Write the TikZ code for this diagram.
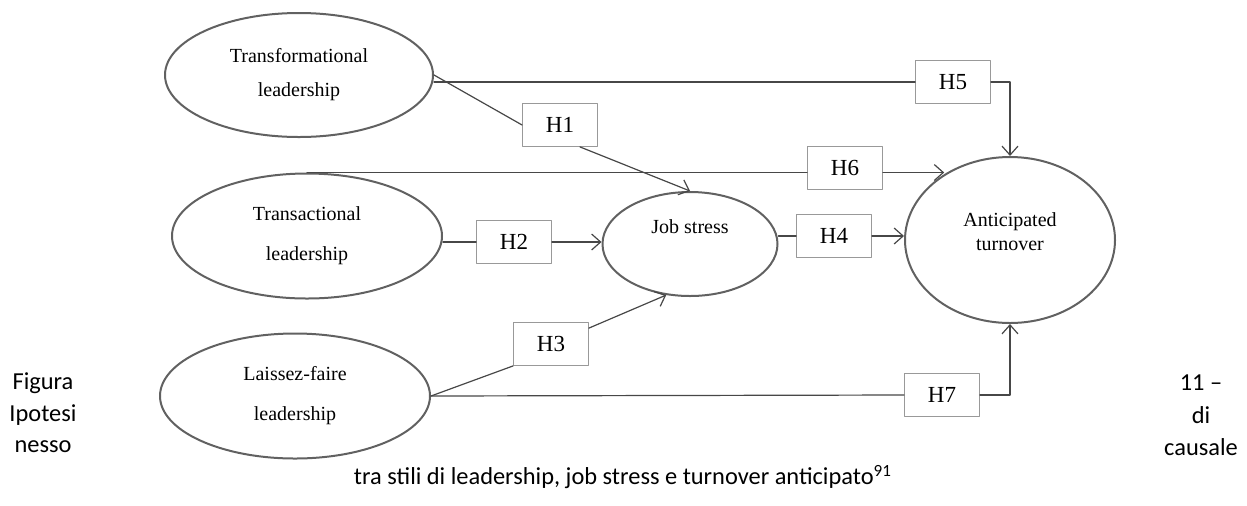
\documentclass[tikz,border=0pt]{standalone}
\usepackage{fontspec}
\setmainfont{Liberation Serif}
\newfontfamily\capfont{Carlito}
\usetikzlibrary{arrows.meta,shapes.geometric}
\begin{document}
\begin{tikzpicture}[line cap=round,line join=round,x=0.5pt,y=-0.5pt,
  var/.style={ellipse,draw=black!62,line width=1pt,inner sep=0pt,align=center,font=\fontsize{10}{12}\selectfont},
  hyp/.style={draw=black!40,line width=0.4pt,minimum width=37.5pt,minimum height=21.5pt,inner sep=0pt,font=\fontsize{11.5}{13}\selectfont},
  link/.style={draw=black!72,line width=0.6pt},
  >={Straight Barb[length=4.5pt,width=8pt]},
  captxt/.style={font=\capfont\fontsize{12.2}{14}\selectfont}]
\useasboundingbox (0,0) rectangle (1247,505);
\node[var,minimum width=134pt,minimum height=62pt] (tf) at (299,75) {Transformational\\[5pt]leadership};
\node[var,minimum width=135pt,minimum height=62.5pt] (ta) at (307,236) {Transactional\\[8pt]leadership};
\node[var,minimum width=135pt,minimum height=62.5pt] (lf) at (295,396) {Laissez-faire\\[8pt]leadership};
\node[var,minimum width=87.5pt,minimum height=52pt,text depth=17pt] (js) at (690,244) {Job stress};
\node[var,minimum width=105pt,minimum height=83pt,text depth=8pt] (at) at (1010,240) {Anticipated\\turnover};
\node[hyp] (h1) at (560,125) {H1};
\node[hyp] (h2) at (514,242) {H2};
\node[hyp] (h3) at (551,344) {H3};
\node[hyp] (h4) at (834,236) {H4};
\node[hyp] (h5) at (953,82) {H5};
\node[hyp] (h6) at (845,168) {H6};
\node[hyp] (h7) at (942,395) {H7};
\draw[link] (h5.west -| tf.east) -- (h5.west);
\draw[link,->] (h5.east) -| (at.north);
\draw[link] (tf.east) -- (h1.west);
\draw[link,->] ([xshift=10pt]h1.south) -- (js.north);
\draw[link] (ta.north) -- (ta.north -| h6.west);
\draw[link,->] (ta.north -| h6.east) -- (ta.north -| at.135);
\draw[link] (h2.west -| ta.east) -- (h2.west);
\draw[link,->] (h2.east) -- (h2.east -| js.west);
\draw[link] (h4.west -| js.east) -- (h4.west);
\draw[link,->] (h4.east) -- (h4.east -| at.west);
\draw[link] (lf.east) -- (h3.south west);
\draw[link,->] ([yshift=-3pt]h3.north east) -- (js.245);
\draw[link] (lf.east) -- (h7.west);
\draw[link,->] (h7.east) -| (at.south);
\node[captxt] (fig) at (43,383) {Figura};
\node[captxt] (ipo) at (43,415) {Ipotesi};
\node[captxt] (nes) at (43,447) {nesso};
\node[captxt] (num) at (1201,383) {11 –};
\node[captxt] (di) at (1201,415) {di};
\node[captxt] (cau) at (1201,447) {causale};
\node[captxt] (capline) at (623,477) {tra stili di leadership, job stress e turnover anticipato\textsuperscript{91}};
\end{tikzpicture}
\end{document}
